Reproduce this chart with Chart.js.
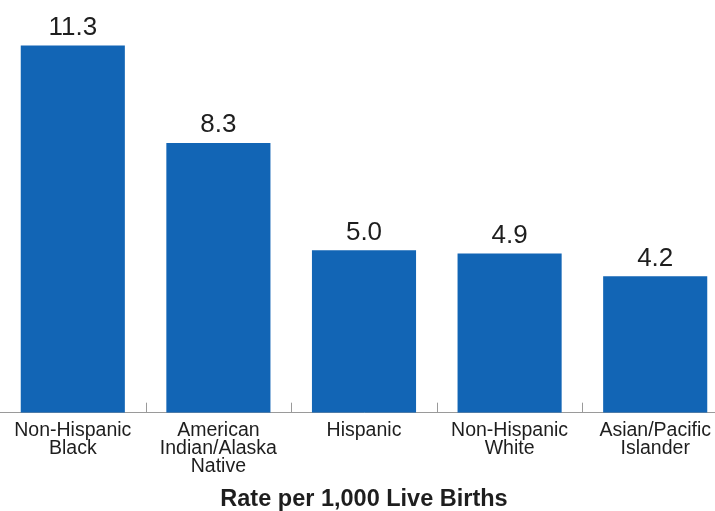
<!DOCTYPE html>
<html>
<head>
<meta charset="utf-8">
<script src="https://cdn.jsdelivr.net/npm/chart.js@4"></script>
<style>
  html, body { margin: 0; padding: 0; background: #fff; overflow: hidden; }
  .wrap { position: relative; width: 728px; height: 511px; }
</style>
</head>
<body>
<div class="wrap"><canvas id="c"></canvas></div>
<script>
// Infant mortality rate by race/ethnicity of mother.
const categories = [
  ['Non-Hispanic', 'Black'],
  ['American', 'Indian/Alaska', 'Native'],
  ['Hispanic'],
  ['Non-Hispanic', 'White'],
  ['Asian/Pacific', 'Islander'],
];
const rates = [11.3, 8.3, 5.0, 4.9, 4.2];
const axisTitle = 'Rate per 1,000 Live Births';

const FONT = '"Liberation Sans", Arial, Helvetica, sans-serif';
const BAR = '#1265b5';
const INK = '#1e1e1e';
const RULE = '#9a9a9a';

// value above each bar, read from the bar elements themselves
const valueLabels = {
  id: 'valueLabels',
  afterDatasetsDraw(chart) {
    const { ctx } = chart;
    const meta = chart.getDatasetMeta(0);
    ctx.save();
    ctx.font = `26px ${FONT}`;
    ctx.fillStyle = INK;
    ctx.textAlign = 'center';
    ctx.textBaseline = 'alphabetic';
    meta.data.forEach((bar, i) => {
      ctx.fillText(rates[i].toFixed(1), bar.x, bar.y - 10.5);
    });
    ctx.restore();
  },
};

// small upward ticks on the axis line between categories
const dividerTicks = {
  id: 'dividerTicks',
  afterDatasetsDraw(chart) {
    const { ctx, chartArea } = chart;
    const x = chart.scales.x;
    ctx.save();
    ctx.strokeStyle = RULE;
    ctx.lineWidth = 1;
    for (let i = 1; i < categories.length; i++) {
      const px = Math.round((x.getPixelForValue(i - 1) + x.getPixelForValue(i)) / 2) + 0.5;
      ctx.beginPath();
      ctx.moveTo(px, chartArea.bottom);
      ctx.lineTo(px, chartArea.bottom - 10);
      ctx.stroke();
    }
    ctx.restore();
  },
};

new Chart(document.getElementById('c'), {
  type: 'bar',
  data: {
    labels: categories,
    datasets: [{
      data: rates,
      backgroundColor: BAR,
      borderWidth: 0,
      categoryPercentage: 1,
      barPercentage: 0.715,
    }],
  },
  options: {
    responsive: true,
    maintainAspectRatio: false,
    animation: false,
    layout: { padding: 0 },
    plugins: {
      legend: { display: false },
      tooltip: { enabled: false },
    },
    scales: {
      x: {
        grid: { display: false, drawTicks: false },
        border: { display: true, color: RULE, width: 1 },
        ticks: {
          color: INK,
          padding: 9,
          maxRotation: 0,
          autoSkip: false,
          font: { family: FONT, size: 19.5, lineHeight: 0.92 },
        },
        title: {
          display: true,
          text: axisTitle,
          color: INK,
          padding: { top: 3, bottom: 0 },
          font: { family: FONT, size: 23.5, weight: 'bold', lineHeight: 1.0 },
        },
      },
      y: {
        display: false,
        min: 0,
        max: 12.7,
      },
    },
  },
  plugins: [valueLabels, dividerTicks],
});
</script>
</body>
</html>
